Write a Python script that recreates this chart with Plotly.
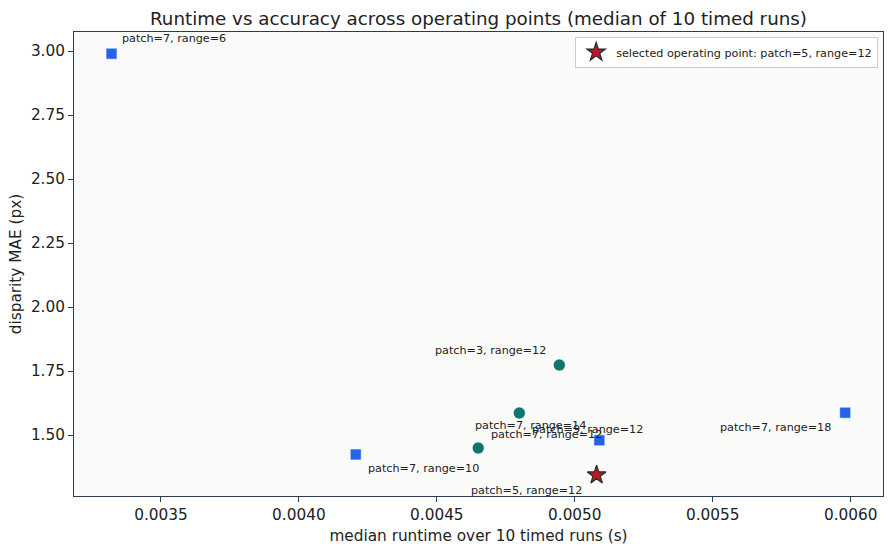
import plotly.graph_objects as go

# ---- data ----
range_sweep_labels = ["patch=7, range=6", "patch=7, range=10", "patch=7, range=14", "patch=7, range=18"]
range_sweep_runtime = [0.003321, 0.004206, 0.005089, 0.005980]
range_sweep_mae = [2.9895, 1.4238, 1.4793, 1.5871]

patch_sweep_labels = ["patch=3, range=12", "patch=7, range=12", "patch=9, range=12"]
patch_sweep_runtime = [0.004944, 0.004650, 0.004799]
patch_sweep_mae = [1.7734, 1.4492, 1.5859]

selected_label = "patch=5, range=12"
selected_runtime = [0.005079]
selected_mae = [1.3438]

# ---- label styles (pixel offsets, anchors) ----
range_sweep_offsets = [(8, 15, "left"), (10, -13.5, "left"), (-11.5, 15, "right"), (-12, -15, "right")]
patch_sweep_offsets = [(-11.5, 15, "right"), (11, 13.5, "left"), (10.7, -16.5, "left")]
selected_offset = (-12.4, -16, "right")

FONT = "DejaVu Sans"
BLUE = "#2563eb"
TEAL = "#0f766e"
RED = "#b91c1c"
DARK = "#2d3a55"
AX = 15.3

fig = go.Figure()
fig.add_trace(go.Scatter(
    x=range_sweep_runtime, y=range_sweep_mae, mode="markers",
    marker=dict(symbol="square", size=11, color=BLUE, line=dict(color="white", width=0.6)),
    showlegend=False, hoverinfo="skip"))
fig.add_trace(go.Scatter(
    x=patch_sweep_runtime, y=patch_sweep_mae, mode="markers",
    marker=dict(symbol="circle", size=12, color=TEAL, line=dict(color="white", width=0.6)),
    showlegend=False, hoverinfo="skip"))
fig.add_trace(go.Scatter(
    x=selected_runtime, y=selected_mae, mode="markers",
    marker=dict(symbol="star", size=14, color=RED, line=dict(color="#1f2937", width=1.2)),
    name="selected operating point: " + selected_label, showlegend=True))

annotations = []
def add_labels(xs, ys, labels, offsets):
    for x, y, t, (dx, dy, anc) in zip(xs, ys, labels, offsets):
        annotations.append(dict(x=x, y=y, xref="x", yref="y", text=t, showarrow=False,
                                xanchor=anc, yanchor="middle", xshift=dx, yshift=dy,
                                font=dict(family=FONT, size=11.2, color="#222222")))

add_labels(range_sweep_runtime, range_sweep_mae, range_sweep_labels, range_sweep_offsets)
add_labels(patch_sweep_runtime, patch_sweep_mae, patch_sweep_labels, patch_sweep_offsets)
add_labels(selected_runtime, selected_mae, [selected_label], [selected_offset])

fig.update_layout(
    width=891, height=551,
    margin=dict(l=74, r=8, t=32, b=55),
    paper_bgcolor="white", plot_bgcolor="#fafaf8",
    font=dict(family=FONT, size=AX, color="#222222"),
    title=dict(text="Runtime vs accuracy across operating points (median of 10 timed runs)",
               x=0.537, xanchor="center", y=0.967, yanchor="middle",
               font=dict(family=FONT, size=18.3, color="#222222")),
    legend=dict(x=0.994, y=0.99, xanchor="right", yanchor="top",
                bgcolor="rgba(255,255,255,0.85)", bordercolor="#cccccc", borderwidth=1,
                font=dict(family=FONT, size=11.2, color="#222222"),
                itemsizing="trace", tracegroupgap=0, itemwidth=30),
    annotations=annotations,
    showlegend=True,
)
fig.update_xaxes(
    range=[0.003185, 0.006117], tickvals=[0.0035, 0.004, 0.0045, 0.005, 0.0055, 0.006],
    ticktext=["0.0035", "0.0040", "0.0045", "0.0050", "0.0055", "0.0060"],
    showgrid=False, zeroline=False, showline=True, linecolor=DARK, linewidth=1, mirror=True,
    ticks="outside", ticklen=5, tickcolor=DARK, tickfont=dict(size=AX),
    title=dict(text="median runtime over 10 timed runs (s)", font=dict(size=AX), standoff=6))
fig.update_yaxes(
    range=[1.2617, 3.0742], tickvals=[1.5, 1.75, 2.0, 2.25, 2.5, 2.75, 3.0],
    ticktext=["1.50", "1.75", "2.00", "2.25", "2.50", "2.75", "3.00"],
    showgrid=False, zeroline=False, showline=True, linecolor=DARK, linewidth=1, mirror=True,
    ticks="outside", ticklen=5, tickcolor=DARK, tickfont=dict(size=AX),
    title=dict(text="disparity MAE (px)", font=dict(size=AX), standoff=5))

fig.write_html("out.html")
